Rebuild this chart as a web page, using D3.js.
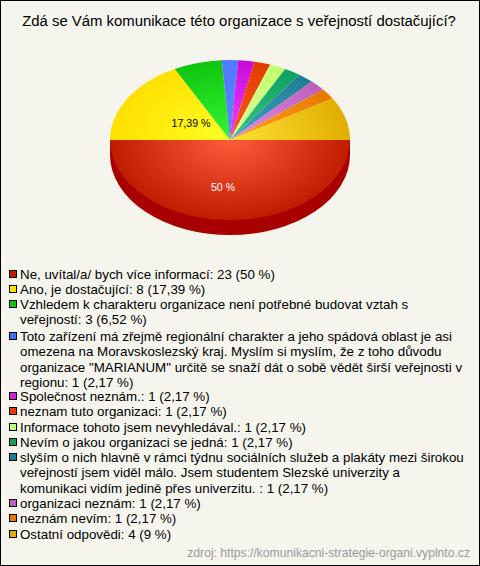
<!DOCTYPE html>
<html><head><meta charset="utf-8">
<script src="https://cdnjs.cloudflare.com/ajax/libs/d3/7.8.5/d3.min.js"></script>
<style>html,body{margin:0;padding:0;background:#f5f5ee}svg{display:block}text{font-family:"Liberation Sans",Arial,sans-serif}</style>
</head><body><svg id="c" width="480" height="566"></svg>
<script>
const titleText = "Zdá se Vám komunikace této organizace s veřejností dostačující?";
const sourceText = "zdroj: https://komunikacni-strategie-organi.vyplnto.cz";
const values = [23, 8, 3, 1, 1, 1, 1, 1, 1, 1, 1, 4];
const centerColors = ["#ff5c3c","#ffff24","#34f834","#5a88ff","#f040ff","#ff5a20","#deff96","#34c884","#44a4c4","#e48ce4","#ffa424","#ffe234"];
const edgeColors = ["#c01c00","#ffe000","#10c410","#5078ff","#c80cd8","#e03a00","#c0ff70","#10a060","#207c94","#bc60bc","#e87800","#e0ae00"];
const swatchColors = ["#c01c00","#ffe000","#10c410","#4070f0","#d020e0","#e83c00","#c0ff70","#10a060","#207c94","#bc60bc","#e87800","#e0ae00"];
const sliceLabels = ["50 %","17,39 %"];
const legendItems = [
 ["Ne, uvítal/a/ bych více informací: 23 (50 %)"],
 ["Ano, je dostačující: 8 (17,39 %)"],
 ["Vzhledem k charakteru organizace není potřebné budovat vztah s","veřejností: 3 (6,52 %)"],
 ["Toto zařízení má zřejmě regionální charakter a jeho spádová oblast je asi","omezena na Moravskoslezský kraj. Myslím si myslím, že z toho důvodu","organizace \"MARIANUM\" určitě se snaží dát o sobě vědět širší veřejnosti v","regionu: 1 (2,17 %)"],
 ["Společnost neznám.: 1 (2,17 %)"],
 ["neznam tuto organizaci: 1 (2,17 %)"],
 ["Informace tohoto jsem nevyhledával.: 1 (2,17 %)"],
 ["Nevím o jakou organizaci se jedná: 1 (2,17 %)"],
 ["slyším o nich hlavně v rámci týdnu sociálních služeb a plakáty mezi širokou","veřejností jsem viděl málo. Jsem studentem Slezské univerzity a","komunikaci vidím jedině přes univerzitu. : 1 (2,17 %)"],
 ["organizaci neznám: 1 (2,17 %)"],
 ["neznám nevím: 1 (2,17 %)"],
 ["Ostatní odpovědi: 4 (9 %)"]
];

const W = 480, H = 566, cx = 230, cy = 140, rx = 120, ry = 80, depth = 15;
const svg = d3.select("#c");
svg.append("rect").attr("x",0.5).attr("y",0.5).attr("width",W-1).attr("height",H-1)
  .attr("fill","#f5f5ee").attr("stroke","#000");
svg.append("text").attr("x",239).attr("y",26).attr("text-anchor","middle")
  .attr("font-size",14.9).attr("fill","#000").text(titleText);

const pie = d3.pie().sort(null).startAngle(Math.PI/2).endAngle(Math.PI/2+2*Math.PI)(values);
const arc = d3.arc().innerRadius(0).outerRadius(rx);
const defs = svg.append("defs");
values.forEach((v,i)=>{
  const g = defs.append("radialGradient").attr("id","g"+i).attr("gradientUnits","userSpaceOnUse")
    .attr("cx",0).attr("cy",0).attr("r",rx);
  g.append("stop").attr("offset",0).attr("stop-color",centerColors[i]);
  g.append("stop").attr("offset",1).attr("stop-color",edgeColors[i]);
});
const sy = ry/rx;
const side = svg.append("g");
side.append("path").attr("transform",`translate(${cx},${cy+depth}) scale(1,${sy})`)
  .attr("d",arc(pie[0])).attr("fill","#a80000");
side.append("rect").attr("x",cx-rx).attr("y",cy).attr("width",2*rx).attr("height",depth).attr("fill","#a80000");
svg.append("g").attr("transform",`translate(${cx},${cy}) scale(1,${sy})`)
  .selectAll("path").data(pie).join("path")
  .attr("d",arc).attr("fill",(d,i)=>`url(#g${i})`);

[[0,"#fff",-7,51],[1,"#000",-39,-13]].forEach(([i,col,dx,dy])=>{
  svg.append("text").attr("x",cx+dx).attr("y",cy+dy).attr("text-anchor","middle")
    .attr("font-size",10.6).attr("fill",col).text(sliceLabels[i]);
});

const lineTops = [274,289,304,336,396,411,427,442,457,503,518,534];
const lineH = 15.25;
const leg = svg.append("g").attr("font-size",13.33).attr("fill","#000");
legendItems.forEach((lines,i)=>{
  const y = lineTops[i];
  leg.append("rect").attr("x",9.5).attr("y",y-3.5).attr("width",7).attr("height",7)
    .attr("fill",swatchColors[i]).attr("stroke","#000").attr("stroke-width",1);
  lines.forEach((t,j)=>{
    leg.append("text").attr("x",20).attr("y",y+5+j*lineH).text(t);
  });
});
svg.append("text").attr("x",470).attr("y",557).attr("text-anchor","end")
  .attr("font-size",12.15).attr("fill","#999").text(sourceText);
</script></body></html>
